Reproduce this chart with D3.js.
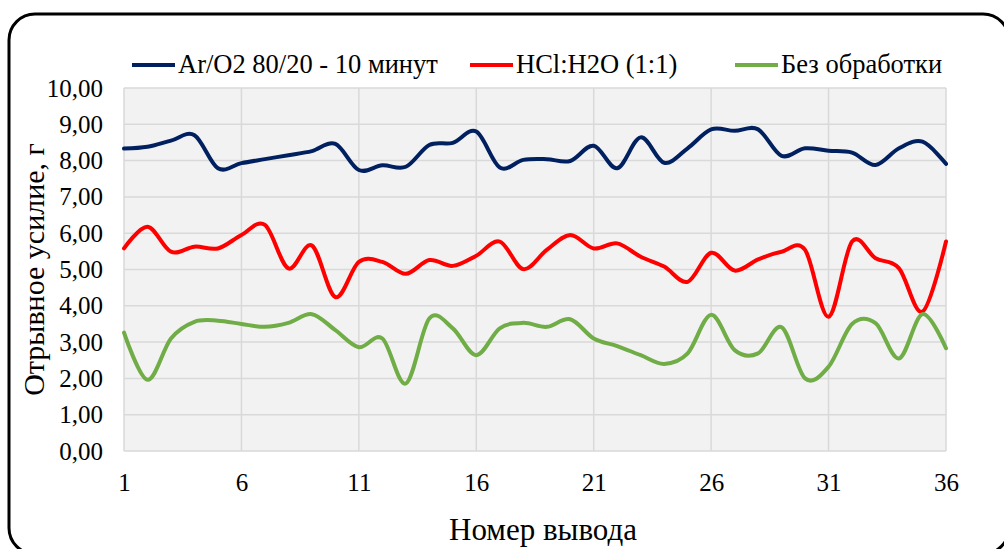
<!DOCTYPE html>
<html>
<head>
<meta charset="utf-8">
<script src="https://cdn.jsdelivr.net/npm/d3@7"></script>
<style>
  body { margin: 0; background: #fff; }
</style>
</head>
<body>
<svg id="chart" width="1004" height="549"></svg>
<script>
const WIDTH = 1004;
const HEIGHT = 549;
const FONT = "'Liberation Serif', 'DejaVu Serif', 'Times New Roman', serif";

const pins = d3.range(1, 37);
const xTicks = [1, 6, 11, 16, 21, 26, 31, 36];
const yTicks = d3.range(0, 11);

const seriesNames = ["Ar/O2 80/20 - 10 минут", "HCl:H2O (1:1)", "Без обработки"];
const seriesColors = ["#002060", "#ff0000", "#70ad47"];

const arO2 = [8.33, 8.38, 8.55, 8.70, 7.79, 7.93, 8.04, 8.15, 8.26, 8.46, 7.74, 7.87,
  7.83, 8.43, 8.49, 8.80, 7.81, 8.02, 8.04, 7.99, 8.41, 7.79, 8.64, 7.94,
  8.34, 8.86, 8.82, 8.86, 8.13, 8.34, 8.27, 8.22, 7.88, 8.34, 8.52, 7.91];
const hcl = [5.58, 6.18, 5.49, 5.63, 5.58, 5.95, 6.23, 5.03, 5.66, 4.24, 5.21, 5.21,
  4.88, 5.26, 5.10, 5.38, 5.77, 5.01, 5.54, 5.95, 5.58, 5.72, 5.35, 5.08,
  4.66, 5.46, 4.97, 5.28, 5.49, 5.54, 3.70, 5.77, 5.31, 5.03, 3.84, 5.77];
const untreated = [3.26, 1.96, 3.10, 3.56, 3.59, 3.50, 3.42, 3.53, 3.77, 3.33, 2.86, 3.10,
  1.86, 3.65, 3.38, 2.64, 3.38, 3.53, 3.42, 3.63, 3.10, 2.89, 2.64, 2.40,
  2.69, 3.75, 2.78, 2.69, 3.41, 2.00, 2.32, 3.50, 3.52, 2.55, 3.77, 2.83];

const allSeries = [arO2, hcl, untreated];

const margin = { left: 124, right: 58, top: 88, bottom: 98 };

const svg = d3.select("#chart");

// outer rounded frame
svg.append("rect")
  .attr("x", 9)
  .attr("y", 14)
  .attr("width", 1000)
  .attr("height", 540)
  .attr("rx", 26)
  .attr("fill", "none")
  .attr("stroke", "#000")
  .attr("stroke-width", 3);

const x = d3.scaleLinear()
  .domain([1, 36])
  .range([margin.left, WIDTH - margin.right]);
const y = d3.scaleLinear()
  .domain([0, 10])
  .range([HEIGHT - margin.bottom, margin.top]);

const fmt = d => d3.format(".2f")(d).replace(".", ",");

// plot background
svg.append("rect")
  .attr("x", x(1))
  .attr("y", y(10))
  .attr("width", x(36) - x(1))
  .attr("height", y(0) - y(10))
  .attr("fill", "#f2f2f2");

// grid
const grid = svg.append("g").attr("stroke", "#d9d9d9").attr("stroke-width", 1.5);
grid.selectAll(".hgrid")
  .data(yTicks)
  .join("line")
  .attr("x1", x(1)).attr("x2", x(36))
  .attr("y1", d => y(d)).attr("y2", d => y(d));
grid.selectAll(".vgrid")
  .data(xTicks)
  .join("line")
  .attr("x1", d => x(d)).attr("x2", d => x(d))
  .attr("y1", y(0)).attr("y2", y(10));

// axes (labels only)
const yAxis = svg.append("g")
  .attr("transform", `translate(${x(1)},0)`)
  .call(d3.axisLeft(y).tickValues(yTicks).tickFormat(fmt).tickSize(0).tickPadding(21));
yAxis.attr("font-family", null).attr("font-size", null);
yAxis.select(".domain").remove();
yAxis.selectAll("text").style("font-family", FONT).style("font-size", "25px").attr("fill", "#000");

const xAxis = svg.append("g")
  .attr("transform", `translate(0,${y(0)})`)
  .call(d3.axisBottom(x).tickValues(xTicks).tickFormat(d3.format("d")).tickSize(0).tickPadding(22));
xAxis.attr("font-family", null).attr("font-size", null);
xAxis.select(".domain").remove();
xAxis.selectAll("text").style("font-family", FONT).style("font-size", "25px").attr("fill", "#000");

// lines
const line = d3.line()
  .x((d, i) => x(pins[i]))
  .y(d => y(d))
  .curve(d3.curveCardinal.tension(0));

svg.selectAll(".series")
  .data(allSeries)
  .join("path")
  .attr("d", line)
  .attr("fill", "none")
  .attr("stroke", (d, i) => seriesColors[i])
  .attr("stroke-width", 4)
  .attr("stroke-linejoin", "round")
  .attr("stroke-linecap", "round");

// axis titles
svg.append("text")
  .attr("x", 543)
  .attr("y", 540)
  .attr("text-anchor", "middle")
  .style("font-family", FONT)
  .style("font-size", "31px")
  .text("Номер вывода");

svg.append("text")
  .attr("transform", `translate(44,${(y(0) + y(10)) / 2}) rotate(-90)`)
  .attr("text-anchor", "middle")
  .style("font-family", FONT)
  .style("font-size", "30px")
  .text("Отрывное усилие, г");

// legend
const legendX = [132, 470, 735];
const legend = svg.selectAll(".legend")
  .data(seriesNames)
  .join("g")
  .attr("transform", (d, i) => `translate(${legendX[i]},65)`);
legend.append("line")
  .attr("x1", 0).attr("x2", 43)
  .attr("stroke", (d, i) => seriesColors[i])
  .attr("stroke-width", 4);
legend.append("text")
  .attr("x", 46)
  .attr("y", 8)
  .style("font-family", FONT)
  .style("font-size", "26.5px")
  .text(d => d);
</script>
</body>
</html>
